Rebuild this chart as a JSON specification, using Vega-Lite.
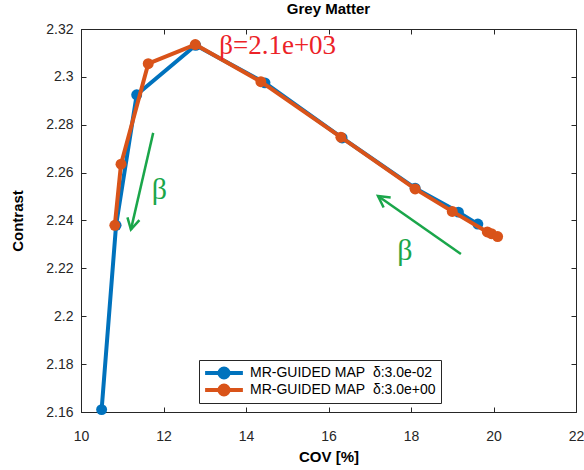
{
  "$schema": "https://vega.github.io/schema/vega-lite/v6.json",
  "width": 495,
  "height": 383,
  "autosize": "none",
  "padding": {"left": 81, "top": 29, "right": 8, "bottom": 58},
  "title": {"text": "Grey Matter", "fontSize": 15, "fontWeight": "bold", "font": "Liberation Sans", "color": "#000000", "offset": 5},
  "config": {
    "font": "Liberation Sans",
    "view": {"stroke": "#262626", "strokeWidth": 1},
    "axis": {
      "grid": false,
      "domainColor": "#262626",
      "tickColor": "#262626",
      "labelColor": "#262626",
      "titleColor": "#000000",
      "labelFontSize": 14,
      "titleFontSize": 15,
      "titleFontWeight": "bold",
      "tickSize": -5,
      "labelFont": "Liberation Sans",
      "titleFont": "Liberation Sans"
    }
  },
  "datasets": {
    "series": [
      {"cov": 10.5, "contrast": 2.161, "s": "MR-GUIDED MAP\u00a0\u00a0δ:3.0e-02"},
      {"cov": 10.85, "contrast": 2.238, "s": "MR-GUIDED MAP\u00a0\u00a0δ:3.0e-02"},
      {"cov": 11.35, "contrast": 2.2925, "s": "MR-GUIDED MAP\u00a0\u00a0δ:3.0e-02"},
      {"cov": 12.78, "contrast": 2.3132, "s": "MR-GUIDED MAP\u00a0\u00a0δ:3.0e-02"},
      {"cov": 14.46, "contrast": 2.2975, "s": "MR-GUIDED MAP\u00a0\u00a0δ:3.0e-02"},
      {"cov": 16.33, "contrast": 2.2745, "s": "MR-GUIDED MAP\u00a0\u00a0δ:3.0e-02"},
      {"cov": 18.1, "contrast": 2.2535, "s": "MR-GUIDED MAP\u00a0\u00a0δ:3.0e-02"},
      {"cov": 19.15, "contrast": 2.2435, "s": "MR-GUIDED MAP\u00a0\u00a0δ:3.0e-02"},
      {"cov": 19.62, "contrast": 2.2385, "s": "MR-GUIDED MAP\u00a0\u00a0δ:3.0e-02"},
      {"cov": 10.82, "contrast": 2.238, "s": "MR-GUIDED MAP\u00a0\u00a0δ:3.0e+00"},
      {"cov": 10.97, "contrast": 2.2635, "s": "MR-GUIDED MAP\u00a0\u00a0δ:3.0e+00"},
      {"cov": 11.63, "contrast": 2.3055, "s": "MR-GUIDED MAP\u00a0\u00a0δ:3.0e+00"},
      {"cov": 12.77, "contrast": 2.3135, "s": "MR-GUIDED MAP\u00a0\u00a0δ:3.0e+00"},
      {"cov": 14.36, "contrast": 2.298, "s": "MR-GUIDED MAP\u00a0\u00a0δ:3.0e+00"},
      {"cov": 16.3, "contrast": 2.2748, "s": "MR-GUIDED MAP\u00a0\u00a0δ:3.0e+00"},
      {"cov": 18.1, "contrast": 2.2532, "s": "MR-GUIDED MAP\u00a0\u00a0δ:3.0e+00"},
      {"cov": 19.0, "contrast": 2.2438, "s": "MR-GUIDED MAP\u00a0\u00a0δ:3.0e+00"},
      {"cov": 19.85, "contrast": 2.2352, "s": "MR-GUIDED MAP\u00a0\u00a0δ:3.0e+00"},
      {"cov": 19.95, "contrast": 2.2345, "s": "MR-GUIDED MAP\u00a0\u00a0δ:3.0e+00"},
      {"cov": 20.1, "contrast": 2.2333, "s": "MR-GUIDED MAP\u00a0\u00a0δ:3.0e+00"}
    ],
    "arrows": [
      {"id": 1, "x0": 11.75, "y0": 2.2766, "x1": 11.21, "y1": 2.2362},
      {"id": 2, "x0": 19.21, "y0": 2.226, "x1": 17.2, "y1": 2.2502}
    ],
    "betas": [
      {"x": 11.9, "y": 2.2528, "t": "β"},
      {"x": 17.85, "y": 2.2274, "t": "β"}
    ],
    "label": [
      {"x": 13.35, "y": 2.3128, "t": "β=2.1e+03"}
    ]
  },
  "resolve": {"axis": {"x": "independent", "y": "independent"}},
  "layer": [
    {
      "data": {"name": "series"},
      "transform": [{"filter": "datum.s == 'MR-GUIDED MAP\u00a0\u00a0δ:3.0e-02'"}],
      "mark": {"type": "line", "strokeWidth": 4, "strokeJoin": "round"},
      "encoding": {
        "x": {"field": "cov", "type": "quantitative", "scale": {"domain": [10, 22], "nice": false, "zero": false},
              "axis": {"values": [10, 12, 14, 16, 18, 20, 22], "title": "COV [%]", "labelPadding": 22, "titlePadding": 6, "labelFlush": false}},
        "y": {"field": "contrast", "type": "quantitative", "scale": {"domain": [2.16, 2.32], "nice": false, "zero": false},
              "axis": {"values": [2.16, 2.18, 2.2, 2.22, 2.24, 2.26, 2.28, 2.3, 2.32], "format": "~g", "title": "Contrast", "labelPadding": 13, "titlePadding": 20, "labelFlush": false}},
        "color": {"field": "s", "type": "nominal", "sort": null,
                  "scale": {"domain": ["MR-GUIDED MAP\u00a0\u00a0δ:3.0e-02", "MR-GUIDED MAP\u00a0\u00a0δ:3.0e+00"], "range": ["#0072BD", "#D95319"]},
                  "legend": {
                    "orient": "none", "legendX": 118, "legendY": 331, "title": null,
                    "strokeColor": "#262626", "fillColor": "#ffffff", "padding": 5,
                    "symbolType": "M-3.15,0 L3.15,0 M0.75,0 L0.693,0.287 L0.53,0.53 L0.287,0.693 L0,0.75 L-0.287,0.693 L-0.53,0.53 L-0.693,0.287 L-0.75,0 L-0.693,-0.287 L-0.53,-0.53 L-0.287,-0.693 L0,-0.75 L0.287,-0.693 L0.53,-0.53 L0.693,-0.287 Z",
                    "symbolSize": 144, "symbolStrokeWidth": 4, "symbolOffset": 12, "labelOffset": 18,
                    "clipHeight": 16,
                    "labelFontSize": 14, "labelColor": "#000000", "labelLimit": 400, "rowPadding": 1,
                    "encode": {"symbols": {"update": {"fill": {"scale": "color", "field": "value"}, "opacity": {"value": 1}}}}
                  }}
      }
    },
    {
      "data": {"name": "series"},
      "transform": [{"filter": "datum.s == 'MR-GUIDED MAP\u00a0\u00a0δ:3.0e-02'"}],
      "mark": {"type": "point", "filled": true, "size": 120, "opacity": 1, "shape": "circle"},
      "encoding": {
        "x": {"field": "cov", "type": "quantitative", "axis": {"orient": "top", "labels": false, "title": null, "domain": false, "values": [10, 12, 14, 16, 18, 20, 22]}},
        "y": {"field": "contrast", "type": "quantitative", "axis": {"orient": "right", "labels": false, "title": null, "domain": false, "values": [2.16, 2.18, 2.2, 2.22, 2.24, 2.26, 2.28, 2.3, 2.32]}},
        "color": {"field": "s", "type": "nominal"}
      }
    },
    {
      "data": {"name": "series"},
      "transform": [{"filter": "datum.s == 'MR-GUIDED MAP\u00a0\u00a0δ:3.0e+00'"}],
      "mark": {"type": "line", "strokeWidth": 4, "strokeJoin": "round"},
      "encoding": {
        "x": {"field": "cov", "type": "quantitative", "axis": null},
        "y": {"field": "contrast", "type": "quantitative", "axis": null},
        "color": {"field": "s", "type": "nominal"}
      }
    },
    {
      "data": {"name": "series"},
      "transform": [{"filter": "datum.s == 'MR-GUIDED MAP\u00a0\u00a0δ:3.0e+00'"}],
      "mark": {"type": "point", "filled": true, "size": 120, "opacity": 1, "shape": "circle"},
      "encoding": {
        "x": {"field": "cov", "type": "quantitative", "axis": null},
        "y": {"field": "contrast", "type": "quantitative", "axis": null},
        "color": {"field": "s", "type": "nominal"}
      }
    },
    {
      "data": {"name": "arrows"},
      "mark": {"type": "rule", "color": "#1AA64A", "strokeWidth": 2.5},
      "encoding": {
        "x": {"field": "x0", "type": "quantitative", "axis": null},
        "y": {"field": "y0", "type": "quantitative", "axis": null},
        "x2": {"field": "x1"},
        "y2": {"field": "y1"}
      }
    },
    {
      "data": {"name": "arrows"},
      "transform": [{"filter": "datum.id == 1"}],
      "mark": {"type": "point", "shape": "M-0.55,1 L0,0 L0.55,1", "filled": false, "color": "#1AA64A", "strokeWidth": 2.5, "size": 500, "angle": 193, "opacity": 1},
      "encoding": {
        "x": {"field": "x1", "type": "quantitative", "axis": null},
        "y": {"field": "y1", "type": "quantitative", "axis": null}
      }
    },
    {
      "data": {"name": "arrows"},
      "transform": [{"filter": "datum.id == 2"}],
      "mark": {"type": "point", "shape": "M-0.55,1 L0,0 L0.55,1", "filled": false, "color": "#1AA64A", "strokeWidth": 2.5, "size": 500, "angle": 305, "opacity": 1},
      "encoding": {
        "x": {"field": "x1", "type": "quantitative", "axis": null},
        "y": {"field": "y1", "type": "quantitative", "axis": null}
      }
    },
    {
      "data": {"name": "betas"},
      "mark": {"type": "text", "font": "Liberation Serif", "fontSize": 30, "color": "#1AA64A", "align": "center", "baseline": "middle"},
      "encoding": {
        "x": {"field": "x", "type": "quantitative", "axis": null},
        "y": {"field": "y", "type": "quantitative", "axis": null},
        "text": {"field": "t"}
      }
    },
    {
      "data": {"name": "label"},
      "mark": {"type": "text", "font": "Liberation Serif", "fontSize": 27, "color": "#EC2227", "align": "left", "baseline": "middle"},
      "encoding": {
        "x": {"field": "x", "type": "quantitative", "axis": null},
        "y": {"field": "y", "type": "quantitative", "axis": null},
        "text": {"field": "t"}
      }
    }
  ]
}
